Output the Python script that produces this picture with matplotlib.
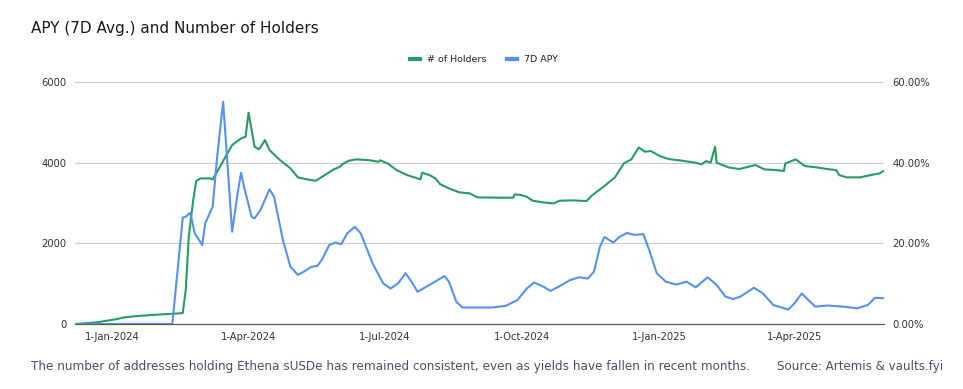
import pandas as pd
import numpy as np
import matplotlib.pyplot as plt
import matplotlib.dates as mdates
from matplotlib.ticker import FuncFormatter

# number of holders (left axis)
holder_dates = ['2023-12-07', '2023-12-21', '2024-01-03', '2024-01-09', '2024-01-17', '2024-01-30',
                '2024-02-15', '2024-02-17', '2024-02-19', '2024-02-21', '2024-02-24', '2024-02-26',
                '2024-02-29', '2024-03-06', '2024-03-08', '2024-03-11', '2024-03-16', '2024-03-21',
                '2024-03-27', '2024-03-30', '2024-04-01', '2024-04-05', '2024-04-08', '2024-04-12',
                '2024-04-15', '2024-04-22', '2024-04-29', '2024-05-04', '2024-05-10', '2024-05-16',
                '2024-05-22', '2024-05-28', '2024-06-01', '2024-06-03', '2024-06-07', '2024-06-12',
                '2024-06-20', '2024-06-27', '2024-06-28', '2024-07-03', '2024-07-09', '2024-07-16',
                '2024-07-25', '2024-07-26', '2024-07-31', '2024-08-04', '2024-08-07', '2024-08-13',
                '2024-08-20', '2024-08-27', '2024-09-01', '2024-09-16', '2024-09-25', '2024-09-26',
                '2024-09-30', '2024-10-04', '2024-10-08', '2024-10-15', '2024-10-22', '2024-10-26',
                '2024-11-04', '2024-11-13', '2024-11-17', '2024-11-25', '2024-12-02', '2024-12-08',
                '2024-12-13', '2024-12-18', '2024-12-22', '2024-12-26', '2025-01-01', '2025-01-07',
                '2025-01-16', '2025-01-25', '2025-01-29', '2025-02-01', '2025-02-04', '2025-02-07',
                '2025-02-08', '2025-02-12', '2025-02-16', '2025-02-23', '2025-03-06', '2025-03-12',
                '2025-03-20', '2025-03-25', '2025-03-26', '2025-04-02', '2025-04-08', '2025-04-16',
                '2025-04-23', '2025-04-29', '2025-05-01', '2025-05-06', '2025-05-15', '2025-05-22',
                '2025-05-28', '2025-05-31']
holders = [0, 40, 116, 165, 198, 231,
           265, 275, 843, 2165, 3075, 3553,
           3612, 3612, 3588, 3777, 4108, 4438,
           4604, 4645, 5240, 4397, 4331, 4562,
           4314, 4066, 3860, 3637, 3588, 3553,
           3694, 3835, 3900, 3967, 4050, 4083,
           4066, 4025, 4060, 3984, 3818, 3694,
           3588, 3752, 3694, 3612, 3471, 3364,
           3265, 3240, 3141, 3133, 3133, 3215,
           3200, 3158, 3058, 3017, 2992, 3058,
           3067, 3050, 3199, 3422, 3637, 3984,
           4083, 4380, 4273, 4290, 4166, 4091,
           4050, 4000, 3960, 4042, 4000, 4397,
           4000, 3942, 3885, 3843, 3942, 3835,
           3818, 3794, 3984, 4083, 3918, 3885,
           3843, 3818, 3694, 3637, 3637, 3694,
           3736, 3802]

# 7 day APY in percent (right axis)
apy_dates = ['2023-12-07', '2024-02-10', '2024-02-17', '2024-02-19', '2024-02-22', '2024-02-25',
             '2024-03-01', '2024-03-03', '2024-03-08', '2024-03-11', '2024-03-15', '2024-03-18',
             '2024-03-21', '2024-03-25', '2024-03-27', '2024-03-29', '2024-04-03', '2024-04-05',
             '2024-04-09', '2024-04-15', '2024-04-18', '2024-04-24', '2024-04-29', '2024-05-04',
             '2024-05-08', '2024-05-13', '2024-05-17', '2024-05-20', '2024-05-25', '2024-05-29',
             '2024-06-02', '2024-06-06', '2024-06-11', '2024-06-15', '2024-06-23', '2024-06-30',
             '2024-07-05', '2024-07-10', '2024-07-15', '2024-07-19', '2024-07-23', '2024-07-31',
             '2024-08-10', '2024-08-13', '2024-08-18', '2024-08-22', '2024-09-11', '2024-09-20',
             '2024-09-28', '2024-10-04', '2024-10-09', '2024-10-15', '2024-10-20', '2024-10-26',
             '2024-11-02', '2024-11-08', '2024-11-14', '2024-11-18', '2024-11-22', '2024-11-25',
             '2024-12-01', '2024-12-05', '2024-12-10', '2024-12-15', '2024-12-21', '2024-12-25',
             '2024-12-30', '2025-01-05', '2025-01-12', '2025-01-19', '2025-01-25', '2025-02-02',
             '2025-02-08', '2025-02-14', '2025-02-19', '2025-02-24', '2025-03-05', '2025-03-11',
             '2025-03-18', '2025-03-28', '2025-04-01', '2025-04-06', '2025-04-10', '2025-04-15',
             '2025-04-23', '2025-05-04', '2025-05-13', '2025-05-20', '2025-05-25', '2025-05-31']
apy = [0, 0, 26.4, 26.6, 27.6, 22.5,
       19.6, 25.0, 29.1, 41.5, 55.1, 39.0,
       22.9, 33.2, 37.5, 34.0, 26.6, 26.2,
       28.3, 33.4, 31.6, 20.8, 14.2, 12.2,
       13.0, 14.2, 14.4, 15.9, 19.6, 20.2,
       19.8, 22.5, 24.1, 22.5, 15.0, 10.1,
       8.8, 10.1, 12.6, 10.5, 8.0, 9.7,
       11.9, 10.5, 5.5, 4.1, 4.1, 4.5,
       6.0, 8.8, 10.3, 9.3, 8.2, 9.4,
       10.9, 11.6, 11.3, 13.0, 19.2, 21.6,
       20.2, 21.6, 22.6, 22.1, 22.3, 18.3,
       12.6, 10.5, 9.8, 10.5, 9.1, 11.6,
       9.7, 6.8, 6.2, 6.8, 9.0, 7.6,
       4.7, 3.6, 5.1, 7.6, 6.1, 4.3,
       4.6, 4.3, 3.9, 4.7, 6.5, 6.4]

xticks = ['2024-01-01', '2024-04-01', '2024-07-01', '2024-10-01', '2025-01-01', '2025-04-01']

green = '#2a9a64'
blue = '#5592ee'
tick_color = '#333333'

fig = plt.figure(figsize=(9.63, 3.89), dpi=100)
ax = fig.add_axes([0.078, 0.167, 0.840, 0.622])
ax2 = ax.twinx()

h_dates = pd.to_datetime(holder_dates)
a_dates = pd.to_datetime(apy_dates)
l1, = ax.plot(h_dates, holders, color=green, lw=1.5, label='# of Holders', zorder=3)
l2, = ax2.plot(a_dates, np.array(apy) / 100, color=blue, lw=1.5, label='7D APY', zorder=3)

ax.set_xlim(h_dates[0], h_dates[-1])
ax.set_ylim(0, 6000)
ax.set_yticks([0, 2000, 4000, 6000])
ax2.set_ylim(0, 0.6)
ax2.set_yticks([0, 0.2, 0.4, 0.6])
ax2.yaxis.set_major_formatter(FuncFormatter(lambda v, p: '%.2f%%' % (v * 100)))

ax.set_xticks(pd.to_datetime(xticks))
ax.xaxis.set_major_formatter(mdates.DateFormatter('%-d-%b-%Y'))

ax.grid(axis='y', color='#cccccc', lw=0.8)
ax.set_axisbelow(True)
for a in (ax, ax2):
    for s in ['top', 'right', 'left']:
        a.spines[s].set_visible(False)
    a.spines['bottom'].set_color('#555555')
    a.tick_params(length=0, labelsize=7.2, colors=tick_color)
ax.tick_params(axis='y', pad=6)
ax2.tick_params(axis='y', pad=6)
ax.tick_params(axis='x', pad=6)

fig.legend(handles=[l1, l2], loc='center', bbox_to_anchor=(0.503, 0.846), ncol=2,
           frameon=False, fontsize=6.8, handlelength=1.0, handletextpad=0.8,
           columnspacing=2.2, labelcolor='#222222')
for line in fig.legends[0].get_lines():
    line.set_linewidth(3)

fig.text(0.032, 0.928, 'APY (7D Avg.) and Number of Holders', fontsize=11,
         color='#1a1a1a', va='center', ha='left')
fig.text(0.032, 0.057, 'The number of addresses holding Ethena sUSDe has remained consistent, '
         'even as yields have fallen in recent months.', fontsize=8.65, color='#4a4f6a',
         va='center', ha='left')
fig.text(0.979, 0.057, 'Source: Artemis & vaults.fyi', fontsize=8.6, color='#4a4f6a',
         va='center', ha='right')

fig.savefig('out.png', dpi=100)
